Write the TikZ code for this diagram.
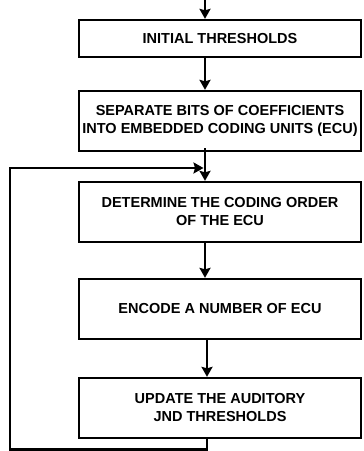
\documentclass[tikz,border=0pt]{standalone}
\usepackage{fontspec}
\setmainfont{Liberation Sans}
\usepackage{tikz}
\usetikzlibrary{arrows.meta}
\usetikzlibrary{positioning}

\begin{document}
\begin{tikzpicture}[x=1bp, y=-1bp,
    every node/.append style={draw, line width=2.3bp, minimum width=282bp, inner sep=2bp,
      align=center, font=\bfseries\fontsize{14.5bp}{18bp}\selectfont},
    flow/.style={line width=2.9bp, -{Stealth[length=10bp,width=11bp,inset=1.5bp]}}]
  \useasboundingbox (0,0) rectangle (363,451);

  \node (init)   at (220, 38.5) [minimum height=37bp] {INITIAL THRESHOLDS};
  \node (split)  at (220, 121)  [minimum height=60bp]
        {SEPARATE BITS OF COEFFICIENTS\\INTO EMBEDDED CODING UNITS (ECU)};
  \node (order)  at (220, 212)  [minimum height=60bp]
        {DETERMINE THE CODING ORDER\\OF THE ECU};
  \node (encode) at (220, 309)  [minimum height=60bp] {ENCODE A NUMBER OF ECU};
  \node (update) at (220, 408)  [minimum height=60bp]
        {UPDATE THE AUDITORY\\JND THRESHOLDS};

  \coordinate (in) at (205, 0);
  \coordinate (fb1) at (207, 449.5);
  \coordinate (fb2) at (10, 449.5);
  \coordinate (fb3) at (10, 168);

  \draw[flow] (in) -- (in |- init.north);
  \draw[flow] (in |- init.south) -- (in |- split.north);
  \draw[flow] ([yshift=4bp]in |- split.south) -- (in |- order.north);
  \draw[flow] (in |- order.south) -- (in |- encode.north);
  \draw[flow] (fb1 |- encode.south) -- (fb1 |- update.north);
  % loop back to the ordering step
  \draw[flow, line join=miter, shorten >=1.5bp]
        (fb1 |- update.south) -- (fb1) -- (fb2) -- (fb3) -- (fb3 -| in);
\end{tikzpicture}
\end{document}
